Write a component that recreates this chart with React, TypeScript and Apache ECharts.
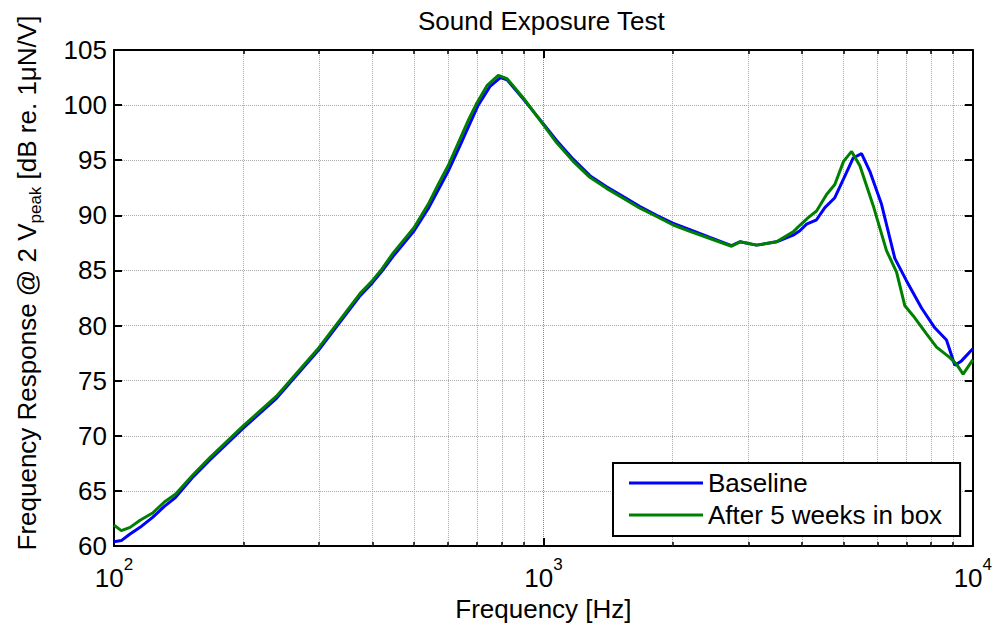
import React, { useEffect, useRef } from 'react';
import * as echarts from 'echarts';

const FONT = '"Liberation Sans", Arial, Helvetica, sans-serif';

const titleText = 'Sound Exposure Test';
const xName = 'Frequency [Hz]';
const seriesNames = ['Baseline', 'After 5 weeks in box'];

const baselineFreq = [100, 104, 109, 115, 123, 131, 139, 153, 167, 200, 239, 300, 374, 400, 420, 447, 500, 539, 574, 600, 639, 670, 705, 751, 794, 823, 900, 1000, 1073, 1173, 1283, 1403, 1534, 1678, 1835, 2000, 2193, 2442, 2742, 2868, 3136, 3491, 3816, 3956, 4101, 4326, 4523, 4771, 5000, 5264, 5507, 5757, 6130, 6583, 7000, 7596, 8155, 8684, 9080, 9412, 10000];
const baselineVals = [60.4, 60.5, 61.1, 61.7, 62.6, 63.6, 64.4, 66.3, 67.8, 70.7, 73.4, 77.8, 82.7, 83.9, 84.9, 86.3, 88.6, 90.6, 92.6, 94.0, 96.3, 98.1, 100.0, 101.7, 102.5, 102.3, 100.5, 98.3, 96.8, 95.1, 93.6, 92.6, 91.7, 90.8, 90.0, 89.3, 88.7, 88.0, 87.25, 87.6, 87.3, 87.6, 88.2, 88.6, 89.2, 89.6, 90.7, 91.6, 93.3, 95.2, 95.6, 94.0, 91.0, 86.1, 84.1, 81.6, 79.8, 78.7, 76.4, 76.8, 77.9];

const afterFreq = [100, 104, 109, 115, 123, 131, 139, 153, 167, 200, 239, 300, 374, 400, 420, 447, 500, 539, 574, 600, 639, 670, 700, 740, 785, 823, 900, 1000, 1073, 1173, 1283, 1403, 1534, 1678, 1835, 2000, 2193, 2442, 2742, 2868, 3136, 3491, 3816, 3956, 4137, 4326, 4565, 4771, 5000, 5221, 5458, 5860, 6295, 6644, 6946, 7261, 7802, 8233, 8843, 9163, 9493, 10000];
const afterVals = [61.9, 61.4, 61.7, 62.35, 63.0, 64.0, 64.7, 66.5, 68.0, 70.9, 73.6, 78.0, 82.9, 84.1, 85.1, 86.6, 88.9, 91.0, 93.1, 94.5, 96.9, 98.7, 100.2, 101.8, 102.7, 102.4, 100.6, 98.2, 96.6, 94.9, 93.45, 92.45, 91.55, 90.65, 89.9, 89.15, 88.55, 87.9, 87.2, 87.6, 87.3, 87.6, 88.5, 89.1, 89.8, 90.4, 91.9, 92.8, 94.9, 95.8, 94.5, 90.9, 86.8, 84.85, 81.8, 80.9, 79.25, 78.05, 77.1, 76.5, 75.6, 76.9];

const minorFreqs = [200, 300, 400, 500, 600, 700, 800, 900, 2000, 3000, 4000, 5000, 6000, 7000, 8000, 9000];

const yMin = 60;
const yMax = 105;
const yStep = 5;
const xMin = 100;
const xMax = 10000;

export default function App() {
  const ref = useRef<HTMLDivElement>(null);
  useEffect(() => {
    if (!ref.current) return;
    const chart = echarts.init(ref.current, null, { renderer: 'svg' });
    const axisLine = { show: true, lineStyle: { color: '#000', width: 2 } };
    const tick = { show: true, inside: true, length: 8, lineStyle: { color: '#000', width: 2 } };
    const minorTickLen = (yMax - yMin) * 4 / 497;
    chart.setOption({
      animation: false,
      textStyle: { fontFamily: FONT },
      title: {
        text: titleText,
        left: 413,
        top: 3,
        textStyle: { fontSize: 26, fontWeight: 'normal', color: '#000', fontFamily: FONT },
      },
      grid: { left: 114, right: 22, top: 50, bottom: 80 },
      legend: {
        data: seriesNames,
        orient: 'vertical',
        left: 613,
        top: 463,
        padding: [7, 18, 8, 16],
        itemGap: 6,
        itemWidth: 74,
        itemHeight: 3,
        icon: 'rect',
        borderColor: '#000',
        borderWidth: 2,
        borderRadius: 0,
        backgroundColor: '#fff',
        textStyle: { fontSize: 26, color: '#000', fontFamily: FONT },
      },
      xAxis: [
        {
          type: 'log',
          logBase: 10,
          min: xMin,
          max: xMax,
          name: xName,
          nameLocation: 'middle',
          nameGap: 45,
          nameTextStyle: { fontSize: 26, color: '#000', fontFamily: FONT },
          axisLine,
          axisTick: tick,
          axisLabel: {
            margin: 10,
            formatter: (v: number) => `{b|10}{s|${Math.round(Math.log10(v))}}`,
            rich: {
              b: { fontSize: 26, color: '#000', fontFamily: FONT, verticalAlign: 'top', padding: [9, 0, 0, 0] },
              s: { fontSize: 17, color: '#000', fontFamily: FONT, verticalAlign: 'top' },
            },
          },
          splitLine: { show: true, lineStyle: { type: 'dotted', color: '#888', width: 1 } },
        },
        {
          type: 'log',
          logBase: 10,
          min: xMin,
          max: xMax,
          position: 'top',
          axisLine,
          axisTick: tick,
          axisLabel: { show: false },
          splitLine: { show: false },
        },
      ],
      yAxis: [
        {
          type: 'value',
          min: yMin,
          max: yMax,
          interval: yStep,
          name: '{a|Frequency Response @ 2 V}{p|peak}{a| [dB re. 1\u03bcN/V]}',
          nameLocation: 'middle',
          nameRotate: 90,
          nameGap: 70,
          nameTextStyle: {
            fontSize: 26,
            color: '#000',
            fontFamily: FONT,
            padding: [0, 0, 0, 30],
            rich: {
              a: { fontSize: 26, color: '#000', fontFamily: FONT, verticalAlign: 'top' },
              p: { fontSize: 17, color: '#000', fontFamily: FONT, verticalAlign: 'top', padding: [13, 0, 0, 0] },
            },
          },
          axisLine,
          axisTick: tick,
          axisLabel: { fontSize: 26, color: '#000', fontFamily: FONT, margin: 7 },
          splitLine: { show: true, lineStyle: { type: 'dotted', color: '#aaa', width: 1 } },
        },
        {
          type: 'value',
          min: yMin,
          max: yMax,
          interval: yStep,
          position: 'right',
          axisLine,
          axisTick: tick,
          axisLabel: { show: false },
          splitLine: { show: false },
        },
      ],
      series: [
        {
          name: '_grid',
          type: 'line',
          data: [],
          silent: true,
          markLine: {
            silent: true,
            z: 1,
            symbol: ['none', 'none'],
            label: { show: false },
            lineStyle: { type: 'dotted', color: '#aaa', width: 1 },
            data: minorFreqs.map((f) => ({ xAxis: f })),
          },
        },
        {
          name: '_ticks',
          type: 'line',
          data: [],
          silent: true,
          markLine: {
            silent: true,
            z: 6,
            symbol: ['none', 'none'],
            label: { show: false },
            lineStyle: { type: 'solid', color: '#000', width: 1.5 },
            data: minorFreqs.flatMap((f) => [
              [{ coord: [f, yMin] }, { coord: [f, yMin + minorTickLen] }],
              [{ coord: [f, yMax] }, { coord: [f, yMax - minorTickLen] }],
            ]),
          },
        },
        {
          name: seriesNames[0],
          type: 'line',
          showSymbol: false,
          z: 3,
          data: baselineFreq.map((f, i) => [f, baselineVals[i]]),
          lineStyle: { color: '#0000ff', width: 3 },
          itemStyle: { color: '#0000ff' },
        },
        {
          name: seriesNames[1],
          type: 'line',
          showSymbol: false,
          z: 4,
          data: afterFreq.map((f, i) => [f, afterVals[i]]),
          lineStyle: { color: '#008000', width: 3 },
          itemStyle: { color: '#008000' },
        },
      ],
    });
    return () => chart.dispose();
  }, []);
  return <div ref={ref} style={{ position: 'fixed', left: 0, top: 0, width: 995, height: 627, background: '#fff' }} />;
}
